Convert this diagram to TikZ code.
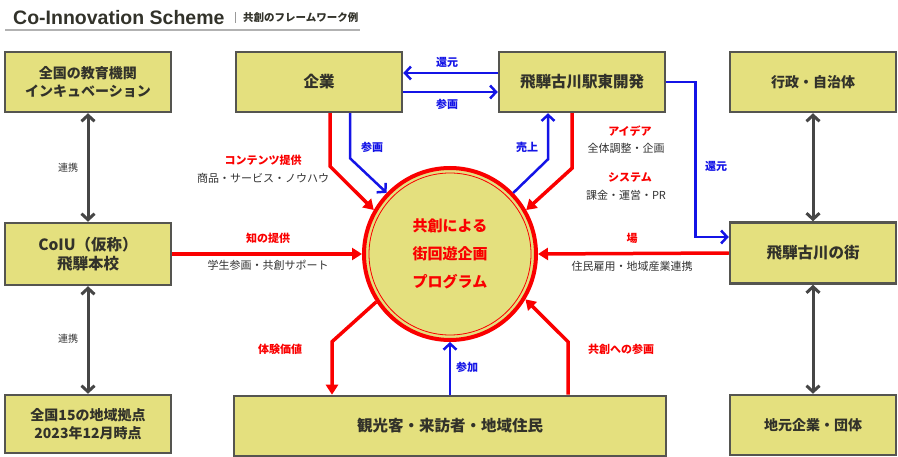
\documentclass[tikz,border=0pt]{standalone}
\usepackage{fontspec}
\setmainfont{Noto Sans CJK JP}
\newfontfamily\titlefont{Liberation Sans}
\usetikzlibrary{positioning, arrows.meta, calc}
\definecolor{boxfill}{RGB}{228,224,126}
\definecolor{boxline}{RGB}{85,85,80}
\definecolor{textdark}{RGB}{50,50,42}
\definecolor{arrowred}{RGB}{250,0,0}
\definecolor{arrowblue}{RGB}{20,20,230}
\definecolor{arrowgray}{RGB}{70,70,70}
\definecolor{labelgray}{RGB}{50,50,50}

\begin{document}
\begin{tikzpicture}[
    x=1pt, y=-1pt,
    box/.style={rectangle, draw=boxline, fill=boxfill, line width=2.5pt, minimum width=166pt, minimum height=60pt, align=center, text=textdark, font=\bfseries\fontsize{14}{18}\selectfont},
    big_box/.style={box, font=\bfseries\fontsize{15.5}{19}\selectfont},
    prog_circle/.style={circle, draw=arrowred, fill=boxfill, line width=4pt, minimum size=172pt, inner sep=0pt, align=center, text=arrowred, font=\bfseries\fontsize{15}{28}\selectfont},
    red_arrow/.style={draw=arrowred, line width=3.5pt, -{Triangle[length=10pt, width=12pt]}},
    blue_arrow/.style={draw=arrowblue, line width=2.5pt, -{Straight Barb[length=6pt, width=13pt]}},
    gray_arrow/.style={draw=arrowgray, line width=3pt, {Straight Barb[length=6pt, width=13pt]}-{Straight Barb[length=6pt, width=13pt]}},
    red_label/.style={text=arrowred, font=\bfseries\fontsize{11}{13}\selectfont},
    blue_label/.style={text=arrowblue, font=\bfseries\fontsize{11}{13}\selectfont},
    gray_label/.style={text=labelgray, font=\fontsize{11}{13}\selectfont},
    small_label/.style={text=labelgray, font=\fontsize{10}{12}\selectfont}
]
\useasboundingbox (0,0) rectangle (898,457);

% Title
\node[anchor=west, text=textdark, inner sep=0pt, font=\titlefont\bfseries\fontsize{19.5}{22}\selectfont] (title) at (13,18) {Co-Innovation Scheme};
\node[anchor=west, text=textdark, inner sep=0pt, font=\bfseries\fontsize{10.5}{12}\selectfont] (subtitle) at (243,18) {共創のフレームワーク例};
\draw[gray!80, line width=0.8pt] (235,12) -- (235,23);
\draw[gray!60, line width=1.8pt] (5,30) -- (360,30);

% Left column
\node[box] (edu_box) at (88,82) {全国の教育機関\\インキュベーション};
\node[big_box, minimum height=62pt] (coiu_box) at (88,254) {CoIU（仮称）\\飛騨本校};
\node[box, minimum height=58pt] (base_box) at (88,424) {全国15の地域拠点\\2023年12月時点};

% Top row
\node[big_box] (kigyo_box) at (319,82) {企業};
\node[big_box] (eki_box) at (582,82) {飛騨古川駅東開発};

% Right column
\node[box] (gyosei_box) at (813,82) {行政・自治体};
\node[big_box, minimum height=61pt] (machi_box) at (813,253) {飛騨古川の街};
\node[box] (jimoto_box) at (813,425) {地元企業・団体};

% Bottom box
\node[big_box, minimum width=432pt] (kanko_box) at (450,426) {観光客・来訪者・地域住民};

% Centre program
\node[prog_circle] (prog) at (450,254) {共創による\\街回遊企画\\プログラム};
\draw[arrowred, line width=0.8pt] (prog.center) circle[radius=81pt];

% Connections: top
\draw[blue_arrow] ($(eki_box.west)+(0,-9)$) -- ($(kigyo_box.east)+(0,-9)$);
\draw[blue_arrow] ($(kigyo_box.east)+(0,10)$) -- ($(eki_box.west)+(0,10)$);
\draw[red_arrow] ($(kigyo_box.south)+(11,0)$) -- ++(0,53) -- (prog.150);
\draw[blue_arrow] ($(kigyo_box.south)+(31,0)$) -- ++(0,45) -- (prog.136);
\draw[blue_arrow] (prog.44) -- ($(eki_box.south)+(-34,46)$) -- ($(eki_box.south)+(-34,0)$);
\draw[red_arrow] ($(eki_box.south)+(-10,0)$) -- ++(0,55) -- (prog.30);
\draw[blue_arrow] (eki_box.east) -- ++(29,0) |- ($(machi_box.west)+(0,-16)$);

% Connections: sides
\draw[red_arrow] (coiu_box.east) -- (prog.west);
\draw[red_arrow] (machi_box.west) -- (prog.east);
\draw[gray_arrow] (edu_box.south) -- (coiu_box.north);
\draw[gray_arrow] (coiu_box.south) -- (base_box.north);
\draw[gray_arrow] (gyosei_box.south) -- (machi_box.north);
\draw[gray_arrow] (machi_box.south) -- (jimoto_box.north);

% Connections: bottom
\draw[red_arrow] (prog.213) -- ($(kanko_box.north)+(-118,-53)$) -- ($(kanko_box.north)+(-118,0)$);
\draw[blue_arrow] (kanko_box.north) -- (prog.south);
\draw[red_arrow] ($(kanko_box.north)+(118,0)$) -- ++(0,-53) -- (prog.329);

% Labels
\node[blue_label] (kangen_top) at (447,62) {還元};
\node[blue_label] (sankaku_top) at (447,104) {参画};
\node[blue_label] (sankaku_mid) at (372,147) {参画};
\node[blue_label] (uriage) at (527,147) {売上};
\node[blue_label] (kangen_right) at (716,166) {還元};
\node[blue_label] (sanka) at (467,367) {参加};

\node[red_label] (contents_lbl) at (263,160) {コンテンツ提供};
\node[gray_label, below=1pt of contents_lbl] (contents_sub) {商品・サービス・ノウハウ};
\node[red_label] (idea_lbl) at (630,131) {アイデア};
\node[gray_label] (idea_sub) at (626,148) {全体調整・企画};
\node[red_label] (system_lbl) at (630,177) {システム};
\node[gray_label] (system_sub) at (626,195) {課金・運営・PR};
\node[red_label] (chi_lbl) at (268,238) {知の提供};
\node[gray_label, below=10pt of chi_lbl] (chi_sub) {学生参画・共創サポート};
\node[red_label] (ba_lbl) at (632,238) {場};
\node[gray_label] (ba_sub) at (632,266) {住民雇用・地域産業連携};
\node[red_label] (taiken_lbl) at (280,349) {体験価値};
\node[red_label] (kyoso_lbl) at (621,349) {共創への参画};

\node[small_label] (renkei_top) at (68,168) {連携};
\node[small_label] (renkei_bottom) at (68,339) {連携};

\end{tikzpicture}
\end{document}
